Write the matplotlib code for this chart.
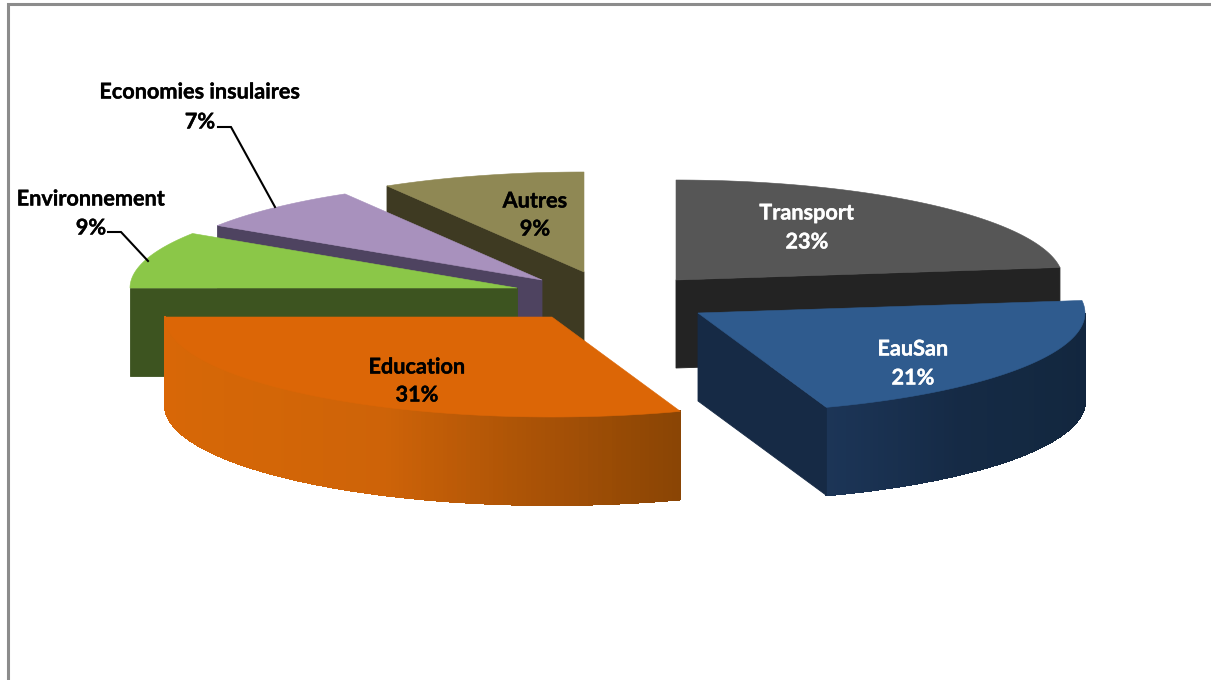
import numpy as np
import matplotlib
matplotlib.use("Agg")
import matplotlib.pyplot as plt
import matplotlib.patheffects as pe
from matplotlib.colors import LinearSegmentedColormap

plt.rcParams["font.family"] = ["Lato", "DejaVu Sans"]
plt.rcParams["font.weight"] = "bold"

# Share of each sector, clockwise from twelve o'clock
categories = ["Transport", "EauSan", "Education", "Environnement",
              "Economies insulaires", "Autres"]
shares = [23, 21, 31, 9, 7, 9]

# Exploded position of each slice apex, in figure pixels
apexes = {
    "Transport": (676, 280),
    "EauSan": (698, 313),
    "Education": (552, 317),
    "Environnement": (517, 288),
    "Economies insulaires": (542, 280),
    "Autres": (584, 272),
}
top_colors = {
    "Transport": "#565656",
    "EauSan": "#2f5b8e",
    "Education": "#dc6606",
    "Environnement": "#8bc748",
    "Economies insulaires": "#a891bd",
    "Autres": "#8f8854",
}
# Colour of the visible straight cut and which edge of the slice carries it
cut_faces = {
    "Transport": ("#232323", "stop"),
    "EauSan": ("#162a45", "stop"),
    "Environnement": ("#3d5420", "start"),
    "Economies insulaires": ("#4e4360", "start"),
    "Autres": ("#3e3a22", "start"),
}
# Shading along the outer rim, in clockwise order
rim_stops = {
    "EauSan": ["#12253e", "#132840", "#152a45", "#1c3557"],
    "Education": ["#8a4505", "#ab5306", "#ce6308", "#d36607", "#d66707", "#da6707"],
}
RX, RY, DEPTH = 387, 100, 88
painting_order = ["Autres", "Economies insulaires", "Environnement", "Education",
                  "Transport", "EauSan"]

# label: centre x, name y, percentage y, colour
label_styles = {
    "Transport": (807, 213, 242, "white"),
    "EauSan": (913, 349, 378, "white"),
    "Education": (417, 367, 395, "black"),
    "Environnement": (91, 199, 228, "black"),
    "Economies insulaires": (200, 92, 122, "black"),
    "Autres": (535, 201, 229, "black"),
}
leaders = [
    ([218, 231, 275], [127, 127, 207]),
    ([108, 121, 148], [232, 232, 261]),
]


def skew(deg):
    """Foreshortening of the 3D view: angles drift a little in the front and rear-left."""
    deg = np.asarray(deg, dtype=float)
    front = 2.4 * np.sin(np.radians(deg - 90))
    rear = 1.8 * np.sin(np.pi * (deg - 295) / 65)
    return np.where((deg > 90) & (deg < 270), deg + front,
                    np.where((deg > 295) & (deg < 360), deg + rear, deg))


def rim(apex, deg):
    t = np.radians(skew(deg))
    return apex[0] + RX * np.sin(t), apex[1] - RY * np.cos(t)


fig = plt.figure(figsize=(12.11, 6.80), dpi=100, facecolor="white")
ax = fig.add_axes([0, 0, 1, 1])
ax.set_xlim(0, 1211)
ax.set_ylim(680, 0)
ax.axis("off")

edges = np.concatenate([[0], np.cumsum(shares)]) * 3.6
spans = {c: (edges[i], edges[i + 1]) for i, c in enumerate(categories)}

for name in painting_order:
    start, stop = spans[name]
    apex = apexes[name]
    z = 2 + painting_order.index(name) * 2
    degs = np.linspace(start, stop, 160)
    xs, ys = rim(apex, degs)

    # Outer rim, drawn as narrow shaded strips on the part facing the viewer
    if name in rim_stops:
        cmap = LinearSegmentedColormap.from_list(name, rim_stops[name])
        idx = np.where((degs >= 90) & (degs <= 270))[0]
        for a, b in zip(idx[:-1], idx[1:]):
            frac = (a - idx[0]) / (idx[-1] - idx[0])
            ax.fill([xs[a], xs[b], xs[b], xs[a]],
                    [ys[a], ys[b], ys[b] + DEPTH, ys[a] + DEPTH],
                    color=cmap(frac), lw=0.8, antialiased=False, zorder=z)

    # Cut face along the straight edge that turns towards the viewer
    if name in cut_faces:
        colour, edge = cut_faces[name]
        cx, cy = rim(apex, stop if edge == "stop" else start)
        ax.fill([apex[0], cx, cx, apex[0]],
                [apex[1], cy, cy + DEPTH, apex[1] + DEPTH],
                color=colour, lw=0.6, zorder=z)

    # Top face
    ax.fill(np.r_[apex[0], xs], np.r_[apex[1], ys],
            color=top_colors[name], lw=0.4, zorder=z + 1)

for name, value in zip(categories, shares):
    x, y1, y2, col = label_styles[name]
    halo = [pe.withStroke(linewidth=0.25, foreground=col)]
    ax.text(x, y1, name, color=col, fontsize=15.6, ha="center", va="center",
            zorder=30, path_effects=halo)
    ax.text(x, y2, f"{value}%", color=col, fontsize=15.6, ha="center", va="center",
            zorder=30, path_effects=halo)

for lx, ly in leaders:
    ax.plot(lx, ly, color="black", lw=1.5, zorder=25, solid_joinstyle="miter")

# Chart area border: only the top and left sides fall inside the canvas
ax.plot([8, 8, 1211], [680, 3.5, 3.5], color="#8c8c8c", lw=2.2, zorder=40,
        solid_joinstyle="miter")

fig.savefig("out.png", dpi=100, facecolor="white")
